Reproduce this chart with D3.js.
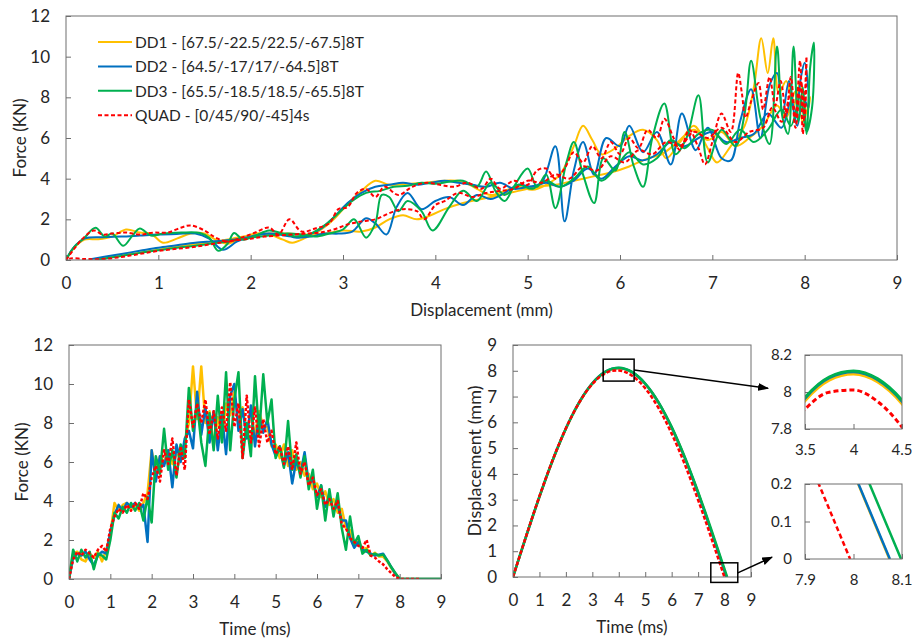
<!DOCTYPE html>
<html>
<head>
<meta charset="utf-8">
<script src="https://cdn.jsdelivr.net/npm/d3@7"></script>
<style>
  body { margin: 0; background: #fff; }
  svg text { font-family: Lato, "Open Sans", sans-serif; fill: #262626; }
</style>
</head>
<body>
<svg id="chart" width="912" height="640"></svg>
<script>
////// data //////

const SERIES_NAMES = [
  "DD1 - [67.5/-22.5/22.5/-67.5]8T",
  "DD2 - [64.5/-17/17/-64.5]8T",
  "DD3 - [65.5/-18.5/18.5/-65.5]8T",
  "QUAD - [0/45/90/-45]4s"
];
const SERIES_COLORS = ["#FFC000", "#0070C0", "#00B050", "#FF0000"];

const AXIS_0_9 = [0, 1, 2, 3, 4, 5, 6, 7, 8, 9];
const FORCE_TICKS = [0, 2, 4, 6, 8, 10, 12];
const INSET1_X = [3.5, 4, 4.5], INSET1_Y = [7.8, 8, 8.2];
const INSET2_X = [7.9, 8, 8.1], INSET2_Y = [0, 0.1, 0.2];

// force vs displacement, [disp mm, force kN], loading then unloading
const fdDD1 = [[0,0],[0.08,0.55],[0.2,1.0],[0.35,1.02],[0.5,1.15],[0.65,1.5],[0.8,1.35],[0.92,1.3],[1.05,0.85],[1.2,1.05],[1.35,1.3],[1.5,1.3],[1.62,1.0],[1.75,0.8],[1.9,1.05],[2.05,1.3],[2.2,1.25],[2.35,1.0],[2.45,0.85],[2.6,1.1],[2.75,1.45],[2.9,2.0],[3.05,2.75],[3.2,3.4],[3.35,3.9],[3.5,3.7],[3.7,3.75],[3.9,3.8],[4.1,3.9],[4.3,3.85],[4.45,3.5],[4.6,3.2],[4.75,3.4],[4.9,3.6],[5.05,3.45],[5.2,3.7],[5.35,4.2],[5.5,5.6],[5.6,6.6],[5.7,5.9],[5.8,5.2],[5.95,5.5],[6.1,6.1],[6.25,6.4],[6.4,5.9],[6.5,5.0],[6.65,5.8],[6.8,6.6],[6.95,5.5],[7.05,4.8],[7.2,5.6],[7.35,6.6],[7.45,8.5],[7.53,10.9],[7.6,9.2],[7.66,10.9],[7.72,8.2],[7.8,8.8],[7.88,7.6],[7.95,8.7],[8.02,7.2],[8.06,8.0],
  [7.98,6.8],[7.9,8.3],[7.8,7.0],[7.7,7.6],[7.55,6.6],[7.4,6.0],[7.25,5.6],[7.1,6.3],[6.95,5.9],[6.8,6.4],[6.6,5.7],[6.45,5.2],[6.3,5.0],[6.1,4.6],[5.9,4.3],[5.7,4.1],[5.5,3.9],[5.3,3.7],[5.1,3.6],[4.9,3.4],[4.7,3.2],[4.5,3.0],[4.3,2.8],[4.1,2.5],[3.95,2.2],[3.8,2.0],[3.65,2.2],[3.5,2.0],[3.35,1.6],[3.2,1.4],[3.0,1.45],[2.8,1.3],[2.6,1.25],[2.4,1.3],[2.2,1.3],[2.0,1.2],[1.8,1.05],[1.6,0.9],[1.4,0.78],[1.2,0.65],[1.0,0.5],[0.8,0.36],[0.6,0.22],[0.45,0.1],[0.3,0.02]];
const fdDD2 = [[0,0],[0.08,0.6],[0.2,1.05],[0.4,1.12],[0.6,1.15],[0.8,1.2],[1.0,1.25],[1.2,1.28],[1.4,1.3],[1.55,1.05],[1.7,0.5],[1.85,0.9],[2.0,1.15],[2.15,1.3],[2.3,1.25],[2.45,1.15],[2.6,1.2],[2.75,1.5],[2.9,2.1],[3.05,2.8],[3.2,3.3],[3.35,3.6],[3.5,3.7],[3.65,3.8],[3.8,3.7],[3.95,3.8],[4.1,3.9],[4.25,3.8],[4.4,3.7],[4.55,3.6],[4.7,3.8],[4.85,3.5],[5.0,3.6],[5.15,3.8],[5.3,5.6],[5.4,1.9],[5.5,4.4],[5.6,5.8],[5.72,4.2],[5.85,6.0],[6.0,5.6],[6.1,6.6],[6.25,5.3],[6.4,6.3],[6.55,4.7],[6.67,7.2],[6.82,5.4],[6.95,6.5],[7.1,5.0],[7.2,4.9],[7.3,6.8],[7.42,8.4],[7.52,6.0],[7.62,8.6],[7.7,9.2],[7.76,7.2],[7.83,8.8],[7.9,7.0],[7.96,9.0],[8.0,9.7],[8.04,7.5],
  [7.98,8.0],[7.92,6.6],[7.85,7.8],[7.75,6.5],[7.6,7.2],[7.45,6.2],[7.3,6.0],[7.15,5.8],[7.0,6.3],[6.85,6.0],[6.7,5.6],[6.55,5.8],[6.4,5.2],[6.25,4.9],[6.1,5.1],[5.95,4.6],[5.8,4.0],[5.65,4.5],[5.5,3.9],[5.35,3.6],[5.2,3.8],[5.05,3.6],[4.9,3.7],[4.75,3.3],[4.6,3.0],[4.45,3.2],[4.3,2.7],[4.15,3.1],[4.0,2.9],[3.85,2.5],[3.7,3.3],[3.58,2.6],[3.47,1.25],[3.35,1.8],[3.25,2.05],[3.1,1.4],[2.95,1.3],[2.8,1.3],[2.65,1.15],[2.5,1.1],[2.35,1.25],[2.2,1.3],[2.0,1.15],[1.8,1.0],[1.6,0.92],[1.4,0.85],[1.2,0.72],[1.0,0.6],[0.8,0.45],[0.6,0.3],[0.4,0.15],[0.25,0.03]];
const fdDD3 = [[0,0],[0.08,0.6],[0.2,1.1],[0.32,1.58],[0.42,1.15],[0.5,1.3],[0.62,0.7],[0.72,1.2],[0.8,1.55],[0.92,1.2],[1.05,1.3],[1.25,1.35],[1.45,1.33],[1.55,1.1],[1.65,0.45],[1.75,0.8],[1.82,1.33],[1.92,1.0],[2.05,1.2],[2.2,1.45],[2.35,1.3],[2.5,1.15],[2.65,1.3],[2.8,1.7],[2.95,2.3],[3.1,2.9],[3.25,3.3],[3.4,3.4],[3.55,3.6],[3.7,3.65],[3.85,3.8],[4.0,3.75],[4.15,3.85],[4.3,3.9],[4.45,3.6],[4.55,4.35],[4.65,3.4],[4.75,2.9],[4.85,3.6],[5.0,4.5],[5.1,3.6],[5.2,4.2],[5.3,2.55],[5.42,4.8],[5.5,5.8],[5.6,4.2],[5.72,2.8],[5.82,5.0],[5.95,4.4],[6.05,6.3],[6.15,4.6],[6.25,3.6],[6.35,6.0],[6.48,7.7],[6.6,5.2],[6.72,6.0],[6.85,8.1],[6.95,4.8],[7.1,6.4],[7.25,5.6],[7.35,7.2],[7.42,9.8],[7.52,7.0],[7.62,5.7],[7.7,10.5],[7.76,7.0],[7.82,6.2],[7.88,10.5],[7.93,6.8],[7.98,8.5],[8.02,6.2],[8.06,9.5],[8.1,10.7],
  [8.08,7.5],[8.02,6.3],[7.95,8.0],[7.85,6.6],[7.75,7.4],[7.6,6.4],[7.45,5.8],[7.3,6.4],[7.15,5.7],[7.0,6.4],[6.85,6.2],[6.7,5.5],[6.55,5.9],[6.4,5.0],[6.25,4.7],[6.1,5.3],[5.95,4.5],[5.8,3.9],[5.65,4.6],[5.5,4.0],[5.35,3.6],[5.2,3.9],[5.05,3.5],[4.9,3.7],[4.75,3.2],[4.6,3.8],[4.45,2.9],[4.3,3.4],[4.15,2.6],[3.97,1.45],[3.85,2.4],[3.7,2.9],[3.6,2.4],[3.5,3.1],[3.42,3.2],[3.35,1.8],[3.25,1.1],[3.12,2.0],[3.0,1.5],[2.85,1.3],[2.7,1.15],[2.55,1.25],[2.4,1.3],[2.2,1.2],[2.0,1.1],[1.8,0.95],[1.6,0.82],[1.4,0.7],[1.2,0.6],[1.0,0.48],[0.8,0.35],[0.6,0.2],[0.45,0.1],[0.35,0.02]];
const fdQUAD = [[0,0],[0.08,0.5],[0.18,1.05],[0.3,1.45],[0.4,1.25],[0.5,1.3],[0.65,1.35],[0.8,1.25],[0.95,1.35],[1.1,1.35],[1.25,1.6],[1.35,1.7],[1.5,1.45],[1.62,1.1],[1.75,0.9],[1.9,1.1],[2.05,1.35],[2.2,1.6],[2.3,1.25],[2.42,2.0],[2.55,1.4],[2.7,1.55],[2.85,1.8],[2.95,2.5],[3.05,2.6],[3.15,3.3],[3.25,3.5],[3.35,3.1],[3.45,3.6],[3.6,3.2],[3.75,3.6],[3.9,3.8],[4.05,3.7],[4.2,3.6],[4.35,3.8],[4.5,3.5],[4.6,4.0],[4.7,3.5],[4.85,3.9],[5.0,3.7],[5.1,4.4],[5.2,4.5],[5.3,4.0],[5.4,4.5],[5.5,5.3],[5.6,4.8],[5.7,5.6],[5.8,5.0],[5.9,5.8],[6.0,5.2],[6.1,6.0],[6.2,5.5],[6.3,6.4],[6.4,6.0],[6.48,6.95],[6.58,6.0],[6.65,5.4],[6.75,6.4],[6.85,5.5],[6.92,4.7],[7.0,5.8],[7.1,7.2],[7.2,6.3],[7.28,9.2],[7.32,8.2],[7.36,7.0],[7.42,7.8],[7.5,8.7],[7.55,7.4],[7.62,9.0],[7.68,7.6],[7.74,8.8],[7.8,7.1],[7.85,9.0],[7.9,7.0],[7.95,9.8],[7.98,6.2],[8.02,10.0],
  [8.0,7.0],[7.96,8.8],[7.9,6.5],[7.85,8.2],[7.75,6.8],[7.65,7.5],[7.55,6.5],[7.4,6.3],[7.25,5.8],[7.1,6.5],[6.95,6.0],[6.8,6.3],[6.65,5.6],[6.5,5.8],[6.35,5.2],[6.2,5.4],[6.05,4.8],[5.9,5.1],[5.75,4.4],[5.6,4.6],[5.45,4.0],[5.3,4.2],[5.15,3.8],[5.0,3.9],[4.85,3.5],[4.7,3.4],[4.55,3.3],[4.4,3.1],[4.25,3.3],[4.1,2.9],[4.0,2.7],[3.88,2.0],[3.8,2.4],[3.65,2.5],[3.5,2.3],[3.35,2.0],[3.2,1.9],[3.05,1.75],[2.9,1.5],[2.75,1.35],[2.6,1.3],[2.45,1.25],[2.3,1.2],[2.15,1.15],[2.0,1.05],[1.8,0.95],[1.6,0.8],[1.4,0.65],[1.2,0.55],[1.0,0.45],[0.8,0.3],[0.6,0.15],[0.4,0.05],[0.2,0.05],[0.05,0.08],[0,0]];

// force vs time (kN)
const forceTime = [0,0.1,0.2,0.3,0.4,0.5,0.6,0.7,0.8,0.9,1.0,1.1,1.2,1.3,1.4,1.5,1.6,1.7,1.8,1.9,2.0,2.1,2.2,2.3,2.4,2.5,2.6,2.7,2.8,2.9,3.0,3.1,3.2,3.3,3.4,3.5,3.6,3.7,3.8,3.9,4.0,4.1,4.2,4.3,4.4,4.5,4.6,4.7,4.8,4.9,5.0,5.1,5.2,5.3,5.4,5.5,5.6,5.7,5.8,5.9,6.0,6.1,6.2,6.3,6.4,6.5,6.6,6.7,6.8,6.9,7.0,7.1,7.2,7.3,7.4,7.5,7.6,7.7,7.8,7.9,8.0,8.5,9.0];
const ftDD1 = [0,1.3,1.4,1.0,0.9,1.3,1.1,1.4,0.9,1.5,2.3,3.9,3.5,3.8,3.9,3.6,3.8,3.5,3.9,4.4,6.6,5.4,6.3,6.0,6.6,5.9,6.4,6.2,7.0,8.0,10.9,8.2,10.9,8.0,8.6,6.8,8.3,7.2,9.0,8.4,9.6,8.0,8.8,7.6,8.4,7.4,8.6,7.8,7.8,6.8,6.9,6.2,6.9,5.8,6.6,5.6,6.0,5.3,5.4,4.6,4.9,4.2,4.5,3.8,4.1,3.4,3.6,2.6,2.5,1.8,2.0,1.5,1.6,1.2,1.35,1.15,1.15,0.9,0.55,0.25,0,0,0];
const ftDD2 = [0,1.1,1.3,1.2,1.4,1.0,0.7,1.2,1.4,1.3,2.4,3.3,3.8,3.5,3.9,3.7,3.9,3.6,3.8,1.9,6.6,5.0,6.3,5.8,6.6,4.7,6.9,6.0,7.2,7.6,6.7,9.6,7.4,8.8,7.0,8.6,6.6,8.4,6.4,9.4,10.0,7.6,8.7,7.2,8.9,6.8,8.4,7.5,8.2,6.9,6.3,6.8,5.8,6.5,4.9,6.1,5.4,6.5,4.9,5.1,4.2,4.8,3.7,4.3,3.5,3.8,3.0,3.0,2.1,1.6,1.9,1.5,1.4,1.3,1.2,1.25,1.3,0.95,0.6,0.25,0,0,0];
const ftDD3 = [0,1.5,0.9,1.5,1.1,1.4,0.5,1.3,1.2,1.0,2.0,3.4,3.1,3.7,3.4,3.9,3.5,3.9,3.0,4.2,2.9,6.3,5.4,7.7,5.6,6.6,5.2,6.9,6.2,9.8,7.6,9.0,7.0,5.8,8.5,6.6,9.4,7.0,10.6,6.6,9.2,10.6,6.2,8.0,6.3,10.4,7.4,10.5,8.0,9.2,6.2,6.8,5.7,8.1,5.6,6.4,5.2,6.3,4.6,5.6,3.6,4.8,3.0,4.6,3.2,4.4,2.6,1.5,3.2,1.8,2.2,1.3,1.5,1.2,1.3,1.2,1.25,0.95,0.6,0.3,0,0,0];
const ftQUAD = [0,1.0,1.4,1.2,1.5,1.3,1.1,1.5,1.7,1.4,2.6,3.2,3.6,3.4,3.8,3.5,3.9,3.6,4.4,4.1,5.2,5.8,5.0,6.6,5.9,7.2,5.3,6.8,5.6,9.2,7.8,9.0,8.0,9.2,7.4,8.6,7.2,8.8,7.6,10.1,7.8,9.0,6.2,9.4,7.0,8.8,6.8,8.2,7.0,7.6,6.4,6.8,5.9,6.8,5.6,7.0,5.4,6.0,4.8,5.2,4.3,4.6,3.8,4.1,3.6,4.0,2.8,2.6,2.1,1.9,1.7,1.6,2.0,1.2,1.1,0.9,0.75,0.5,0.3,0.1,0,0,null];

// displacement vs time (mm)
const dispTime = [0,0.25,0.5,0.75,1.0,1.25,1.5,1.75,2.0,2.25,2.5,2.75,3.0,3.25,3.5,3.75,4.0,4.25,4.5,4.75,5.0,5.25,5.5,5.75,6.0,6.25,6.5,6.75,7.0,7.25,7.5,7.75,8.0];
const dtDD1 = [0,0.798,1.588,2.362,3.114,3.835,4.518,5.158,5.749,6.283,6.756,7.163,7.500,7.765,7.953,8.064,8.097,8.054,7.937,7.747,7.486,7.158,6.763,6.306,5.792,5.224,4.610,3.950,3.261,2.530,1.780,1.010,0.230];
const dtDD2 = [0,0.799,1.589,2.365,3.119,3.840,4.525,5.166,5.757,6.292,6.766,7.174,7.512,7.777,7.966,8.077,8.109,8.066,7.950,7.760,7.498,7.167,6.772,6.313,5.798,5.229,4.611,3.948,3.256,2.525,1.773,1.008,0.232];
const dtDD3 = [0,0.800,1.591,2.367,3.121,3.843,4.528,5.169,5.761,6.296,6.770,7.178,7.516,7.781,7.970,8.081,8.114,8.071,7.955,7.767,7.508,7.180,6.787,6.334,5.823,5.257,4.645,3.989,3.303,2.579,1.833,1.073,0.302];
const dtQUAD = [0,0.804,1.599,2.378,3.134,3.857,4.543,5.182,5.769,6.297,6.762,7.161,7.485,7.736,7.907,7.999,8.011,7.948,7.810,7.602,7.322,6.974,6.563,6.091,5.563,4.984,4.362,3.693,2.988,2.260,1.513,0.750,null];
const dispEndTime = [8.074, 8.075, 8.098, 7.993]; // time where displacement returns to 0

// zoomed windows shown on the displacement chart: [t0, t1, d0, d1]
const zoomBox1 = [3.41, 4.58, 7.60, 8.45];
const zoomBox2 = [7.48, 8.50, -0.21, 0.55];

////// setup //////

var svg = d3.select("#chart");
var defs = svg.append("defs");

defs.append("marker")
    .attr("id", "arrow")
    .attr("viewBox", "0 0 10 10")
    .attr("refX", 9).attr("refY", 5)
    .attr("markerWidth", 11).attr("markerHeight", 8)
    .attr("markerUnits", "userSpaceOnUse")
    .attr("orient", "auto")
    .attr("preserveAspectRatio", "none")
    .append("path")
    .attr("d", "M0,0 L10,5 L0,10 z")
    .attr("fill", "#000");

var fmt = d3.format("~g");
var clipCount = 0;

// builds one framed panel with inward ticks, returns scales and group
function makePanel(o) {
    var g = svg.append("g").attr("transform", "translate(" + o.left + "," + o.top + ")");
    var x = d3.scaleLinear().domain(o.xDomain).range([0, o.width]);
    var y = d3.scaleLinear().domain(o.yDomain).range([o.height, 0]);

    var id = "clip" + (clipCount++);
    defs.append("clipPath").attr("id", id)
        .append("rect").attr("width", o.width).attr("height", o.height);

    var xa = g.append("g")
        .attr("transform", "translate(0," + o.height + ")")
        .call(d3.axisBottom(x).tickValues(o.xTicks).tickFormat(fmt)
            .tickSizeInner(-5).tickSizeOuter(0).tickPadding(o.padX || 17));
    var ya = g.append("g")
        .call(d3.axisLeft(y).tickValues(o.yTicks).tickFormat(fmt)
            .tickSizeInner(-5).tickSizeOuter(0).tickPadding(o.padY || 16));
    [xa, ya].forEach(function(a) {
        a.select(".domain").remove();
        a.selectAll("line").attr("stroke", "#6e6e6e");
        a.selectAll("text").style("font-size", (o.font || 17) + "px").attr("fill", "#262626");
    });

    var plot = g.append("g").attr("clip-path", "url(#" + id + ")");

    g.append("rect")
        .attr("width", o.width).attr("height", o.height)
        .attr("fill", "none").attr("stroke", "#6e6e6e").attr("stroke-width", 1);

    if (o.xLabel) {
        g.append("text")
            .attr("x", o.width / 2).attr("y", o.height + 49)
            .attr("text-anchor", "middle").attr("dominant-baseline", "central")
            .style("font-size", "17px").text(o.xLabel);
    }
    if (o.yLabel) {
        g.append("text")
            .attr("transform", "translate(" + (-o.yLabelDx) + "," + (o.height / 2) + ") rotate(-90)")
            .attr("text-anchor", "middle").attr("dominant-baseline", "central")
            .style("font-size", (o.yLabelSize || 17) + "px").text(o.yLabel);
    }
    return { g: g, plot: plot, x: x, y: y };
}

function drawLine(panel, pts, i, width, curve, dash) {
    var line = d3.line()
        .defined(function(d) { return d[1] !== null; })
        .x(function(d) { return panel.x(d[0]); })
        .y(function(d) { return panel.y(d[1]); })
        .curve(curve);
    panel.plot.append("path")
        .datum(pts)
        .attr("d", line)
        .attr("fill", "none")
        .attr("stroke", SERIES_COLORS[i])
        .attr("stroke-width", width)
        .attr("stroke-linejoin", "round")
        .attr("stroke-dasharray", i === 3 ? dash : null);
}

////////// top: force vs displacement //////////

var topPanel = makePanel({
    left: 66, top: 16, width: 831, height: 244,
    xDomain: [0, 9], yDomain: [0, 12], xTicks: AXIS_0_9, yTicks: FORCE_TICKS,
    xLabel: "Displacement (mm)", yLabel: "Force (KN)", yLabelDx: 47
});

[fdDD1, fdDD2, fdDD3, fdQUAD].forEach(function(s, i) {
    drawLine(topPanel, s, i, 2, d3.curveCatmullRom.alpha(0.5), "4,2.5");
});

// legend
var legend = topPanel.g.append("g").attr("transform", "translate(32,26)");
SERIES_NAMES.forEach(function(name, i) {
    var row = legend.append("g").attr("transform", "translate(0," + (i * 24.4) + ")");
    row.append("line").attr("x1", 0).attr("x2", 34)
        .attr("stroke", SERIES_COLORS[i]).attr("stroke-width", 2)
        .attr("stroke-dasharray", i === 3 ? "4,2.5" : null);
    row.append("text").attr("x", 37).attr("dominant-baseline", "central")
        .style("font-size", "15.5px").text(name);
});

////////// bottom left: force vs time //////////

var bl = makePanel({
    left: 69, top: 345, width: 372, height: 234,
    xDomain: [0, 9], yDomain: [0, 12], xTicks: AXIS_0_9, yTicks: FORCE_TICKS,
    xLabel: "Time (ms)", yLabel: "Force (KN)", yLabelDx: 48
});

[ftDD1, ftDD2, ftDD3, ftQUAD].forEach(function(s, i) {
    var pts = forceTime.map(function(t, k) { return [t, s[k]]; });
    drawLine(bl, pts, i, 2.5, d3.curveLinear, "3,2");
});

////////// bottom right: displacement vs time //////////

var br = makePanel({
    left: 513, top: 345, width: 238, height: 232,
    xDomain: [0, 9], yDomain: [0, 9], xTicks: AXIS_0_9, yTicks: AXIS_0_9,
    xLabel: "Time (ms)", yLabel: "Displacement (mm)", yLabelDx: 39, yLabelSize: 18
});

var in1 = makePanel({
    left: 805, top: 355, width: 97, height: 74,
    xDomain: [3.5, 4.5], yDomain: [7.8, 8.2], xTicks: INSET1_X, yTicks: INSET1_Y,
    padX: 15, padY: 13, font: 15
});

var in2 = makePanel({
    left: 805, top: 484, width: 97, height: 75,
    xDomain: [7.9, 8.1], yDomain: [0, 0.2], xTicks: INSET2_X, yTicks: INSET2_Y,
    padX: 15, padY: 13, font: 15
});

// keep the rightmost inset labels inside the page
[in1, in2].forEach(function(p) {
    p.g.selectAll(".tick text").filter(function(d) { return d === 4.5 || d === 8.1; })
        .attr("text-anchor", "end").attr("dx", 10);
});

[dtDD1, dtDD2, dtDD3, dtQUAD].forEach(function(s, i) {
    var pts = dispTime.map(function(t, k) { return [t, s[k]]; })
        .filter(function(d) { return d[1] !== null; });
    pts.push([dispEndTime[i], 0]);
    drawLine(br, pts, i, 2.5, d3.curveMonotoneX, "4,2");
    drawLine(in1, pts, i, 3, d3.curveMonotoneX, "5,3");
    drawLine(in2, pts, i, 2.5, d3.curveMonotoneX, "5,3");
});

// zoom boxes and arrows
[zoomBox1, zoomBox2].forEach(function(b) {
    br.g.append("rect")
        .attr("x", br.x(b[0])).attr("y", br.y(b[3]))
        .attr("width", br.x(b[1]) - br.x(b[0]))
        .attr("height", br.y(b[2]) - br.y(b[3]))
        .attr("fill", "none").attr("stroke", "#000").attr("stroke-width", 1.5);
});

function arrow(x1, y1, x2, y2) {
    svg.append("line")
        .attr("x1", x1).attr("y1", y1).attr("x2", x2).attr("y2", y2)
        .attr("stroke", "#000").attr("stroke-width", 1.5)
        .attr("marker-end", "url(#arrow)");
}
arrow(513 + br.x(zoomBox1[1]), 345 + br.y(8.03), 805 - 37, 355 + in1.y(8.02));
arrow(513 + br.x(zoomBox2[1]), 345 + br.y(0.16), 805 - 33, 484 + in2.y(0.005));
</script>
</body>
</html>
